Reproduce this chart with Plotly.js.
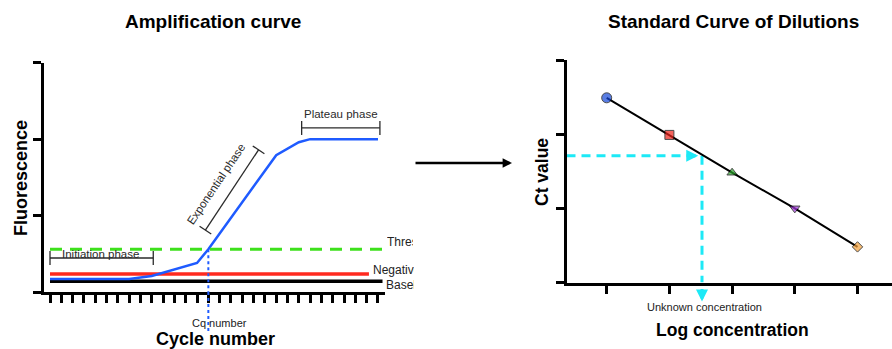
<!DOCTYPE html>
<html>
<head>
<meta charset="utf-8">
<script src="https://cdn.plot.ly/plotly-3.0.1.min.js"></script>
<style>html,body{margin:0;padding:0;background:#fff;}#chart{width:892px;height:349px;}</style>
</head>
<body>
<div id="chart"></div>
<script>
// ---------- Amplification curve data ----------
const cycleTicks = [1,2,3,4,5,6,7,8,9,10,11,12,13,14,15,16,17,18,19,20,21,22,23,24,25,26,27,28,29,30];
const curveCycles = [1, 8, 10, 14, 15, 21, 23, 24, 30];
const curveFluorescence = [0.17, 0.17, 0.21, 0.38, 0.56, 1.79, 1.96, 2.0, 2.0];
const baselineCycles = [1, 30.4];
const baselineLevel = [0.14, 0.14];
const negativeCycles = [1, 29.2];
const negativeLevel = [0.235, 0.235];
const thresholdCycles = [1, 30.6];
const thresholdLevel = [0.56, 0.56];
const cqCycle = 15;
const fluorTicks = [0, 1, 2, 3];

// phase brackets (cycle, fluorescence)
const initiationX = [1, 10.13];
const initiationY = [0.445, 0.445];
const plateauX = [23.25, 30.17];
const plateauY = [2.146, 2.146];
const exponentialX = [14.74, 19.44];
const exponentialY = [0.81, 1.86];

// ---------- Standard curve data ----------
const logConcentration = [1, 2, 3, 4, 5];
const ctValues = [2.49, 1.99, 1.48, 1.00, 0.48];
const ctTicks = [0, 1, 2, 3];
const unknownLogConc = 2.52;
const unknownCt = 1.71;
const unknownArrowTipX = 2.46;

const W = 892, H = 349;
const px = v => v / W;
const py = v => 1 - v / H;

const BLUE = '#1f5bff';
const CYAN = '#1de9f6';
const BR = '#2a2a2a';

const traces = [
  {x: baselineCycles, y: baselineLevel, xaxis: 'x', yaxis: 'y', mode: 'lines', line: {color: '#000', width: 3.5}},
  {x: negativeCycles, y: negativeLevel, xaxis: 'x', yaxis: 'y', mode: 'lines', line: {color: '#ff2a1f', width: 3.5}},
  {x: curveCycles, y: curveFluorescence, xaxis: 'x', yaxis: 'y', mode: 'lines', line: {color: BLUE, width: 2.5}},
  {x: thresholdCycles, y: thresholdLevel, xaxis: 'x', yaxis: 'y', mode: 'lines', line: {color: '#3ee01c', width: 3, dash: '12px,8px'}},
  {x: [cqCycle, cqCycle], y: [thresholdLevel[0], 0], xaxis: 'x', yaxis: 'y', mode: 'lines', line: {color: BLUE, width: 2, dash: 'dot'}},
  // brackets
  {x: initiationX, y: initiationY, xaxis: 'x', yaxis: 'y', mode: 'lines+markers', line: {color: BR, width: 1.3},
   marker: {symbol: 'line-ns', size: 10, line: {color: BR, width: 1.3}}, cliponaxis: false},
  {x: plateauX, y: plateauY, xaxis: 'x', yaxis: 'y', mode: 'lines+markers', line: {color: BR, width: 1.3},
   marker: {symbol: 'line-ns', size: 10, line: {color: BR, width: 1.3}}, cliponaxis: false},
  {x: exponentialX, y: exponentialY, xaxis: 'x', yaxis: 'y', mode: 'lines+markers', line: {color: BR, width: 1.3},
   marker: {symbol: 'line-ns', size: 10, angle: 123.5, line: {color: BR, width: 1.3}}, cliponaxis: false},
  // standard curve
  {x: [0.359, unknownArrowTipX], y: [unknownCt, unknownCt], xaxis: 'x2', yaxis: 'y2', mode: 'lines', line: {color: CYAN, width: 3, dash: '9px,6px'}},
  {x: [unknownLogConc, unknownLogConc], y: [unknownCt, 0], xaxis: 'x2', yaxis: 'y2', mode: 'lines', line: {color: CYAN, width: 3, dash: '9px,6px'}},
  {x: logConcentration, y: ctValues, xaxis: 'x2', yaxis: 'y2', mode: 'lines+markers', line: {color: '#000', width: 2},
   marker: {symbol: ['circle', 'square', 'triangle-up', 'triangle-down', 'diamond'],
            color: ['#1447d8', '#f0231b', '#2aa52a', '#a63be0', '#f5a03a'], size: [10, 9, 9, 9, 8]}, cliponaxis: false}
];

const axBase = {showgrid: false, zeroline: false, showline: true, linecolor: '#000', linewidth: 3,
  ticks: 'outside', tickcolor: '#000', tickwidth: 3, showticklabels: false, fixedrange: true};

const annFont = {family: 'Liberation Sans, Arial, sans-serif', color: '#000'};
const C = {xanchor: 'center', yanchor: 'middle', showarrow: false};
const annotations = [
  {...C, text: '<b>Amplification curve</b>', xref: 'paper', yref: 'paper', x: px(213), y: py(22), font: {...annFont, size: 19}},
  {...C, text: '<b>Standard Curve of Dilutions</b>', xref: 'paper', yref: 'paper', x: px(733), y: py(22), font: {...annFont, size: 19}},
  {...C, text: '<b>Fluorescence</b>', xref: 'paper', yref: 'paper', x: px(21), y: py(178), textangle: -90, font: {...annFont, size: 18}},
  {...C, text: '<b>Cycle number</b>', xref: 'paper', yref: 'paper', x: px(215), y: py(338.5), font: {...annFont, size: 18}},
  {...C, text: '<b>Ct value</b>', xref: 'paper', yref: 'paper', x: px(542), y: py(172), textangle: -90, font: {...annFont, size: 17.5}},
  {...C, text: '<b>Log concentration</b>', xref: 'paper', yref: 'paper', x: px(732), y: py(330), font: {...annFont, size: 17.5}},
  {...C, text: 'Unknown concentration', xref: 'paper', yref: 'paper', x: px(704), y: py(307), font: {...annFont, size: 11, color: '#222'}},
  {...C, text: 'Cq number', xref: 'x', yref: 'paper', x: cqCycle + 1, y: py(323), font: {...annFont, size: 11, color: '#222'}},
  {...C, text: 'Initiation phase', xref: 'x', yref: 'y', x: 5.5, y: 0.50, font: {...annFont, size: 11.5, color: BR}},
  {...C, text: 'Plateau phase', xref: 'x', yref: 'y', x: 26.7, y: 2.33, font: {...annFont, size: 11.5, color: BR}},
  {...C, text: 'Exponential phase', xref: 'x', yref: 'y', x: 15.7, y: 1.41, textangle: -56, font: {...annFont, size: 11.5, color: BR}},
  {text: 'Threshold', xref: 'paper', yref: 'paper', x: px(385), y: py(242), xanchor: 'left', yanchor: 'middle', align: 'left', width: 26, showarrow: false, font: {...annFont, size: 12, color: '#222'}},
  {text: 'Negative control', xref: 'paper', yref: 'paper', x: px(371), y: py(270), xanchor: 'left', yanchor: 'middle', align: 'left', width: 41, showarrow: false, font: {...annFont, size: 12, color: '#222'}},
  {text: 'Baseline', xref: 'paper', yref: 'paper', x: px(384), y: py(285), xanchor: 'left', yanchor: 'middle', align: 'left', width: 28, showarrow: false, font: {...annFont, size: 12, color: '#222'}},
  // arrow between charts
  {text: '', xref: 'paper', yref: 'paper', x: px(512), y: py(163), ax: -98, ay: 0, showarrow: true, arrowhead: 2, arrowsize: 0.75, arrowwidth: 2.5, arrowcolor: '#000'},
  // cyan arrow heads
  {text: '', xref: 'x2', yref: 'y2', x: unknownArrowTipX, y: unknownCt, ax: -12, ay: 0, showarrow: true, arrowhead: 2, arrowsize: 0.8, arrowwidth: 3, arrowcolor: CYAN},
  {text: '', xref: 'x2', yref: 'y2', x: unknownLogConc, y: 0, yshift: -19, ax: 0, ay: -14, showarrow: true, arrowhead: 2, arrowsize: 0.8, arrowwidth: 3, arrowcolor: CYAN}
];

const shapes = [
  {type: 'line', xref: 'x', yref: 'y domain', x0: cqCycle, x1: cqCycle, y0: 0, y1: -0.175, line: {color: BLUE, width: 2, dash: 'dot'}}
];

const layout = {
  width: W, height: H,
  margin: {l: 0, r: 0, t: 0, b: 0},
  paper_bgcolor: '#fff', plot_bgcolor: '#fff',
  showlegend: false, hovermode: false,
  font: {family: 'Liberation Sans, Arial, sans-serif'},
  xaxis: {...axBase, domain: [43.5 / W, 385 / W], range: [0.425, 30.62], tickvals: cycleTicks, ticklen: 8, anchor: 'y'},
  yaxis: {...axBase, domain: [1 - 292 / H, 1 - 62.7 / H], range: [0, 3], tickvals: fluorTicks, ticklen: 7.5, anchor: 'x'},
  xaxis2: {...axBase, domain: [566.5 / W, 1], range: [0.359, 5.55], tickvals: logConcentration, ticklen: 8, anchor: 'y2'},
  yaxis2: {...axBase, domain: [1 - 282.5 / H, 1 - 60 / H], range: [0, 3], tickvals: ctTicks, ticklen: 7.5, anchor: 'x2'},
  annotations: annotations,
  shapes: shapes
};

Plotly.newPlot('chart', traces, layout, {staticPlot: true, displayModeBar: false});
</script>
</body>
</html>
